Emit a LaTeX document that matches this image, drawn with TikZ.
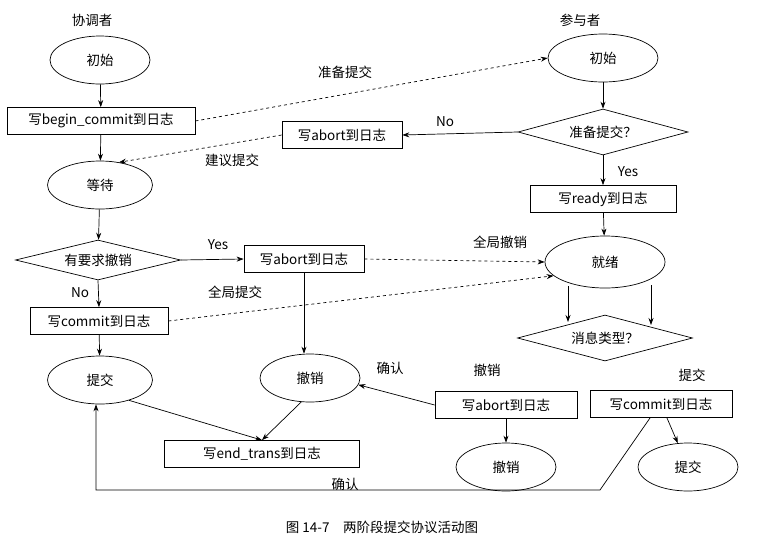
\documentclass[tikz,border=0pt]{standalone}
\usepackage{fontspec}
\setmainfont{Liberation Serif}
\newfontfamily\cjk{Noto Sans CJK SC}
\usetikzlibrary{shapes.geometric,arrows.meta}
\begin{document}
\begin{tikzpicture}[x=1pt,y=-1pt,font=\cjk\fontsize{13.5}{15}\selectfont,line width=0.7pt,
 el/.style={draw,ellipse,minimum width=100pt,minimum height=48pt,inner sep=0pt},
 bx/.style={draw,rectangle,minimum height=27pt,inner sep=2pt},
 dm/.style={draw,diamond,aspect=3.8,inner sep=1pt,minimum height=44pt},
 ar/.style={-{Stealth[length=7pt,width=5pt]},line width=0.7pt},
 da/.style={ar,dashed},
 lb/.style={inner sep=1pt}]
\useasboundingbox (0,0) rectangle (764,555);
\node[lb] (c) at (92,20) {协调者};
\node[lb] (p) at (580,20) {参与者};
\node[el] (i1) at (100,60) {初始};
\node[bx,minimum width=188pt] (bc) at (101,121) {写begin\_commit到日志};
\node[el,minimum width=105pt] (w) at (100,185) {等待};
\node[dm,minimum width=165pt,minimum height=40pt] (d1) at (98,260) {有要求撤销};
\node[bx,minimum width=138pt] (cm) at (99,321) {写commit到日志};
\node[el,minimum width=105pt] (t1) at (100,380) {提交};
\node[bx,minimum width=120pt] (ab) at (304,259) {写abort到日志};
\node[el] (r1) at (310,378) {撤销};
\node[bx,minimum width=195pt] (et) at (262,454) {写end\_trans到日志};
\node[el,minimum width=110pt] (i2) at (603,58) {初始};
\node[dm,minimum width=170pt,minimum height=46pt] (d2) at (603,132) {准备提交？};
\node[bx,minimum width=120pt] (ab2) at (342,135) {写abort到日志};
\node[bx,minimum width=146pt] (rd) at (603,199) {写ready到日志};
\node[el,minimum width=120pt,minimum height=52pt] (rdy) at (605,262) {就绪};
\node[dm,minimum width=175pt,minimum height=46pt] (d3) at (605,338) {消息类型？};
\node[bx,minimum width=142pt] (ab3) at (506,405) {写abort到日志};
\node[bx,minimum width=142pt] (cm3) at (661,404) {写commit到日志};
\node[el] (r3) at (506,467) {撤销};
\node[el] (t3) at (688,467) {提交};
\node[lb] (l1) at (345,72) {准备提交};
\node[lb] (l2) at (232,160) {建议提交};
\node[lb] (l3) at (445,122) {No};
\node[lb] (l4) at (628,172) {Yes};
\node[lb] (l5) at (218,245) {Yes};
\node[lb] (l6) at (80,293) {No};
\node[lb] (l7) at (500,242) {全局撤销};
\node[lb] (l8) at (235,292) {全局提交};
\node[lb] (l9) at (390,368) {确认};
\node[lb] (l10) at (487,370) {撤销};
\node[lb] (l11) at (692,375) {提交};
\node[lb] (l12) at (345,484) {确认};
\node[lb] (cap) at (382,527) {图 14-7\quad 两阶段提交协议活动图};
\draw[ar] (i1) -- (bc);
\draw[ar] (bc) -- (w);
\draw[ar] (w) -- (d1);
\draw[ar] (d1.east) -- (ab.west);
\draw[ar] (d1.south) -- (cm.north);
\draw[ar] (cm) -- (t1);
\draw[ar] (ab.south) -- (ab.south |- r1.north);
\draw[ar] (t1.-35) -- (et.north);
\draw[ar] (r1.-110) -- (et.north);
\draw[da] (bc.east) -- (i2.west);
\draw[da] (ab2.west) -- (w.50);
\draw[ar] (d2.west) -- (ab2.east);
\draw[ar] (i2) -- (d2);
\draw[ar] (d2) -- (rd);
\draw[ar] (rd) -- (rdy);
\draw[da] (ab.east) -- (rdy.west);
\draw[da] (cm.east) -- (rdy.195);
\coordinate (q1) at (568,322);
\coordinate (q2) at (651,325);
\draw[ar] (q1 |- rdy.225) -- (q1);
\draw[ar] (q2 |- rdy.-40) -- (q2);
\draw[ar] (ab3.west) -- (r1.-8);
\draw[ar] (ab3) -- (r3);
\draw[ar] (cm3) -- (t3);
\coordinate (k0) at (650,418);
\coordinate (k1) at (600,490);
\coordinate (k2) at (96,490);
\draw[ar] (k0) -- (k1) -- (k2) -- (t1.south -| k2);
\end{tikzpicture}
\end{document}
